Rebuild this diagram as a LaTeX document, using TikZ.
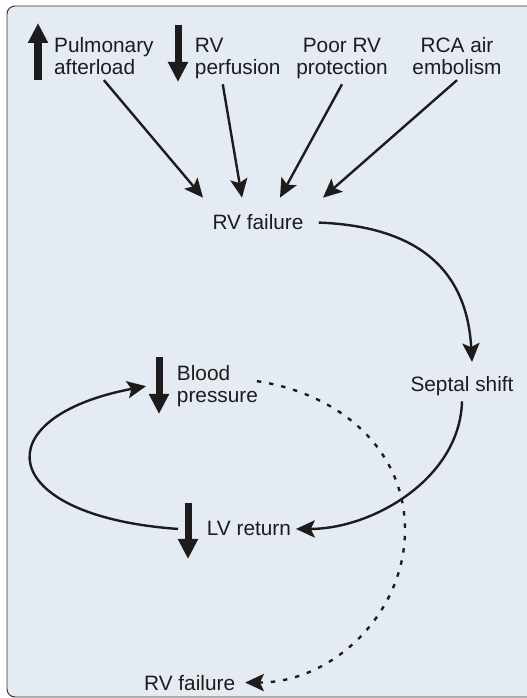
\documentclass[tikz,border=0pt]{standalone}
\usepackage{fontspec}
\setmainfont{Liberation Sans}
\usetikzlibrary{arrows.meta}
\definecolor{panel}{RGB}{228,235,242}
\definecolor{ink}{RGB}{30,27,28}

\begin{document}
\begin{tikzpicture}[
        font=\fontsize{14.8}{16.3}\selectfont, text=ink,
        conn/.style={draw=ink, line width=1.7pt, -{Stealth[length=0.47cm, width=0.43cm, inset=0.1cm]}},
        dotconn/.style={conn, dash pattern=on 0.11cm off 0.2cm},
        updown/.style={draw=ink, line width=0.175cm, -{Triangle[length=0.5cm, width=0.475cm]}},
    ]
        \clip (0, 0) rectangle (13.175, 17.45);
        \draw[draw=ink!90, fill=panel, line width=0.7pt, rounded corners=0.2cm] (0.175, 0.025) rectangle (13.6, 17.3);

        % Causes along the top (base sits on the second line):
        \node[anchor=base west, align=left] (pulm) at (1.23, 15.575) {Pulmonary\\afterload};
        \node[anchor=base west, align=left] (perf) at (4.75, 15.575) {RV\\perfusion};
        \node[anchor=base, align=center] (poor) at (8.55, 15.575) {Poor RV\\protection};
        \node[anchor=base, align=center] (rca) at (11.425, 15.575) {RCA air\\embolism};
        \draw[updown] (0.95, 15.45) -- (0.95, 16.875);
        \draw[updown] (4.45, 16.825) -- (4.45, 15.4);

        % Chain and loop:
        \node[anchor=base, inner xsep=0.375cm, inner ysep=0.425cm] (rvfail) at (6.45, 11.7) {RV failure};
        \node[anchor=base] (septal) at (11.55, 7.65) {Septal shift};
        \node[anchor=base west, align=left] (bp) at (4.3, 7.375) {Blood\\pressure};
        \node[anchor=base west] (lvret) at (5.05, 4.05) {LV return};
        \node[anchor=base west] (rvfailb) at (3.48, 0.2) {RV failure};
        \coordinate (bend) at (10.125, 4.2);
        \draw[updown] (3.975, 8.525) -- (3.975, 7.1);
        \draw[updown] (4.7, 4.875) -- (4.7, 3.475);

        \draw[conn] (pulm.south) -- ([xshift=-1.375cm]rvfail.north);
        \draw[conn] ([xshift=-0.375cm]perf.south) -- ([xshift=-0.4cm]rvfail.north);
        \draw[conn] (poor.south) -- ([xshift=0.55cm]rvfail.north);
        \draw[conn] (rca.south) -- ([xshift=1.625cm]rvfail.north);
        \draw[conn] (rvfail.east) .. controls +(2.55, -0.1) and +(-0.125, 2.25) .. ([xshift=0.25cm, yshift=0.25cm]septal.north);
        \draw[conn] (septal.south) .. controls +(-0.05, -1.925) and +(1.925, 0) .. (lvret.east);
        \draw[conn] ([xshift=-0.6cm]lvret.west) .. controls +(-4.575, 0.325) and +(-4.075, -0.775) .. ([xshift=-0.65cm]bp.west);
        \draw[dotconn] ([xshift=-0.15cm, yshift=0.125cm]bp.east) .. controls +(2.025, -0.3) and +(0, 2.05) .. (bend)
            .. controls +(0, -2.1) and +(2.175, 0) .. ([xshift=0.125cm]rvfailb.east);
    \end{tikzpicture}
\end{document}
